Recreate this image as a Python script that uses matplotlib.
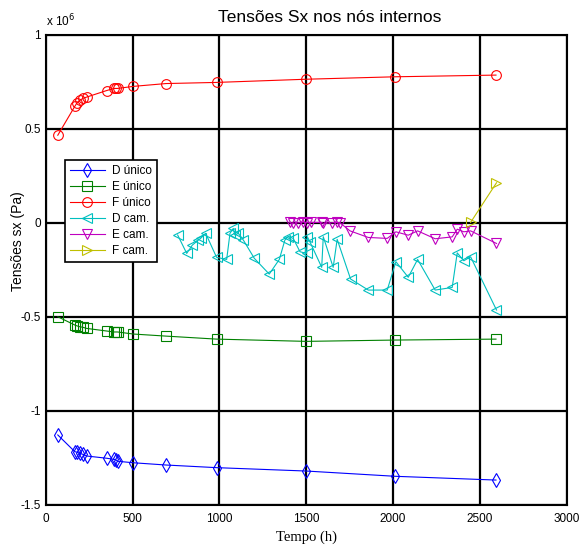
import matplotlib
matplotlib.use("Agg")
import matplotlib.pyplot as plt
from matplotlib.ticker import FixedLocator

# ---- data (stress values in units of 10^6 Pa) ----
t_unico = [70, 168, 182, 196, 214, 236, 352, 394, 405, 414, 505, 693, 984, 1500, 2012, 2592]
d_unico = [-1.129, -1.218, -1.221, -1.227, -1.232, -1.241, -1.253, -1.259, -1.262, -1.269,
           -1.277, -1.289, -1.303, -1.321, -1.349, -1.369]
e_unico = [-0.500, -0.544, -0.549, -0.553, -0.556, -0.562, -0.576, -0.581, -0.581, -0.581,
           -0.592, -0.603, -0.619, -0.631, -0.624, -0.619]
f_unico = [0.466, 0.620, 0.640, 0.651, 0.662, 0.669, 0.704, 0.715, 0.715, 0.715,
           0.726, 0.741, 0.747, 0.764, 0.777, 0.786]

t_dcam = [760, 812, 844, 879, 892, 921, 984, 1042, 1061, 1080, 1090, 1109, 1138, 1201, 1287,
          1345, 1377, 1397, 1425, 1464, 1502, 1506, 1521, 1589, 1598, 1655, 1678, 1755, 1857,
          1966, 2016, 2087, 2141, 2242, 2340, 2369, 2407, 2446, 2595]
d_cam = [-0.065, -0.163, -0.119, -0.092, -0.083, -0.056, -0.184, -0.195, -0.056, -0.030,
         -0.065, -0.056, -0.092, -0.189, -0.273, -0.195, -0.092, -0.074, -0.083, -0.154,
         -0.163, -0.074, -0.101, -0.237, -0.074, -0.237, -0.088, -0.299, -0.358, -0.358,
         -0.207, -0.290, -0.195, -0.358, -0.344, -0.160, -0.202, -0.181, -0.464]

t_ecam = [1405, 1425, 1454, 1483, 1506, 1525, 1589, 1598, 1646, 1675, 1694, 1752, 1857,
          1966, 2016, 2087, 2141, 2242, 2340, 2369, 2407, 2446, 2595]
e_cam = [0.002, -0.003, 0.000, 0.004, 0.000, 0.002, 0.002, -0.003, 0.000, 0.002, 0.000,
         -0.043, -0.078, -0.083, -0.048, -0.066, -0.043, -0.085, -0.075, -0.034, -0.048,
         -0.043, -0.110]

t_fcam = [2446, 2595]
f_cam = [0.002, 0.213]

x_ticks = [0, 500, 1000, 1500, 2000, 2500, 3000]
y_ticks = [-1.5, -1.0, -0.5, 0.0, 0.5, 1.0]
y_tick_labels = ["-1.5", "-1", "-0.5", "0", "0.5", "1"]

series = [
    ("D único", t_unico, d_unico, (0, 0, 1), "d"),
    ("E único", t_unico, e_unico, (0, 0.5, 0), "s"),
    ("F único", t_unico, f_unico, (1, 0, 0), "o"),
    ("D cam.", t_dcam, d_cam, (0, 0.75, 0.75), "<"),
    ("E cam.", t_ecam, e_cam, (0.75, 0, 0.75), "v"),
    ("F cam.", t_fcam, f_cam, (0.75, 0.75, 0), ">"),
]

plt.rcParams['font.family'] = ['Liberation Sans', 'DejaVu Sans']

fig = plt.figure(figsize=(5.85, 5.45), dpi=100)
ax = fig.add_axes([0.078, 0.074, 0.891, 0.862])

for label, t, v, c, m in series:
    ax.plot(t, v, color=c, marker=m, markerfacecolor='none', markeredgecolor=c,
            markersize=7, markeredgewidth=0.8, linewidth=0.8, label=label, zorder=3)

ax.set_xlim(0, 3000)
ax.set_ylim(-1.5, 1.0)
ax.xaxis.set_major_locator(FixedLocator(x_ticks))
ax.yaxis.set_major_locator(FixedLocator(y_ticks))
ax.set_yticklabels(y_tick_labels)
ax.grid(True, color='black', linestyle='-', linewidth=1.6, zorder=1)
ax.set_axisbelow(True)
ax.tick_params(direction='in', length=4, width=1.2, labelsize=8.5, top=True, right=True,
               colors='black')
ax.tick_params(axis='x', pad=6)
for s in ax.spines.values():
    s.set_linewidth(1.5)
    s.set_color('black')

ax.text(0.0, 1.012, r"x 10$^{6}$", transform=ax.transAxes, fontsize=8.5, ha='left', va='bottom')
ax.text(0.331, 1.022, "Tensões Sx nos nós internos", transform=ax.transAxes, fontsize=12.5,
        ha='left', va='bottom')
ax.set_ylabel("Tensões sx (Pa)", fontsize=10)
ax.yaxis.set_label_coords(-0.040, 0.56)
ax.set_xlabel("Tempo (h)", fontsize=10.5, family=['Liberation Serif', 'DejaVu Serif'], labelpad=4)

leg = ax.legend(loc='upper left', bbox_to_anchor=(0.037, 0.733), fontsize=8.5, numpoints=1,
                fancybox=False, framealpha=1, edgecolor='black', borderpad=0.4,
                labelspacing=0.34, handlelength=3.0, handletextpad=0.6, borderaxespad=0)
leg.get_frame().set_linewidth(1.2)
leg.set_zorder(5)

fig.savefig("out.png", dpi=100)
